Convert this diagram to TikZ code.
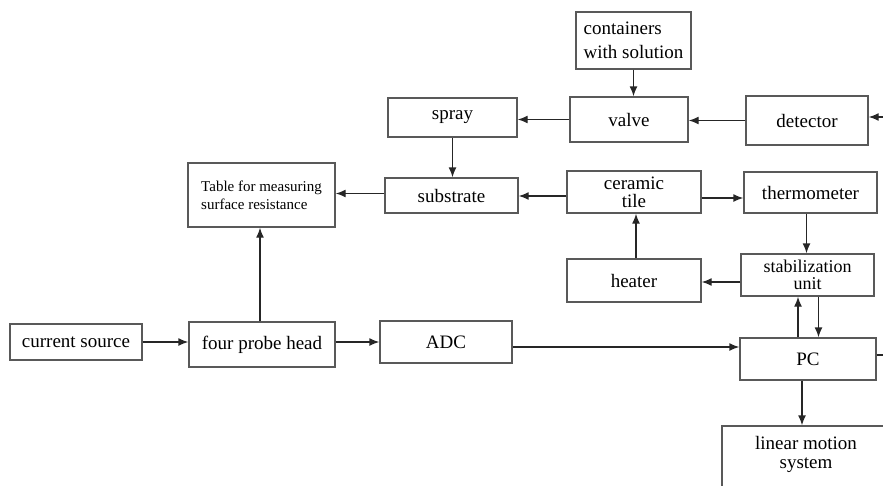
\documentclass[tikz,border=0pt]{standalone}
\usepackage{fontspec}
\setmainfont{Liberation Serif}
\usetikzlibrary{arrows.meta}

\begin{document}
\begin{tikzpicture}[x=1pt,y=-1pt,>={Latex[length=10pt,width=8pt]},
	  blk/.style={draw=black!65,line width=1.4pt,inner sep=0pt,align=center,font=\fontsize{19}{19}\selectfont},
	  arr/.style={->,line width=1.4pt,black!85}]
	  \useasboundingbox (0,0) rectangle (883,485);
	  \clip (0,0) rectangle (883,485);
	  % top row
	  \node[blk,align=left,minimum width=115,minimum height=57,font=\fontsize{19}{24}\selectfont] (cont) at (633.5,40.5) {containers\\with solution};
	  \node[blk,minimum width=118,minimum height=45] (valve) at (629,119.5) {valve};
	  \node[blk,minimum width=129,minimum height=39] (spray) at (452.5,117.5) {spray};
	  \node[blk,minimum width=122,minimum height=49] (det) at (807,120.5) {detector};
	  % middle rows
	  \node[blk,align=left,minimum width=147,minimum height=64,font=\fontsize{15}{18}\selectfont] (table) at (261.5,195) {Table for measuring\\surface resistance};
	  \node[blk,minimum width=133,minimum height=35] (sub) at (451.5,195.5) {substrate};
	  \node[blk,minimum width=134,minimum height=42,font=\fontsize{19}{18}\selectfont] (cer) at (634,192) {ceramic\\tile};
	  \node[blk,minimum width=133,minimum height=41] (therm) at (810.5,192.5) {thermometer};
	  \node[blk,minimum width=134,minimum height=43] (heat) at (634,280.5) {heater};
	  \node[blk,minimum width=133,minimum height=42,font=\fontsize{18}{17}\selectfont] (stab) at (807.5,275) {stabilization\\unit};
	  % bottom row
	  \node[blk,minimum width=132,minimum height=36] (cur) at (76,342) {current source};
	  \node[blk,minimum width=146,minimum height=45] (four) at (262,344.5) {four probe head};
	  \node[blk,minimum width=132,minimum height=42] (adc) at (446,342) {ADC};
	  \node[blk,minimum width=136,minimum height=42] (pc) at (808,359) {PC};
	  \node[blk,minimum width=168,minimum height=72] (lin) at (806,462) {linear motion\\system\\~};
	  \coordinate (inR) at (895,117);
	  \coordinate (outR) at (895,355);
	  % connectors
	  \draw[arr] (cont.south) -- (cont.south |- valve.north);
	  \draw[arr] (valve.west) -- (valve.west -| spray.east);
	  \draw[arr] (det.west) -- (det.west -| valve.east);
	  \draw[arr] (inR) -- (inR -| det.east);
	  \draw[arr] (spray.south) -- (spray.south |- sub.north);
	  \draw[arr] ([yshift=2pt]sub.west) -- ([yshift=2pt]sub.west -| table.east);
	  \draw[arr] ([yshift=-4pt]cer.west) -- ([yshift=-4pt]cer.west -| sub.east);
	  \draw[arr] ([yshift=-6pt]cer.east) -- ([yshift=-6pt]cer.east -| therm.west);
	  \draw[arr] ([xshift=-4pt]therm.south) -- ([xshift=-4pt]therm.south |- stab.north);
	  \draw[arr] ([yshift=-7pt]stab.west) -- ([yshift=-7pt]stab.west -| heat.east);
	  \draw[arr] ([xshift=2pt]heat.north) -- ([xshift=2pt]heat.north |- cer.south);
	  \draw[arr] ([xshift=-10pt]pc.north) -- ([xshift=-10pt]pc.north |- stab.south);
	  \draw[arr] ([xshift=11pt]stab.south) -- ([xshift=11pt]stab.south |- pc.north);
	  \draw[arr] (cur.east) -- (cur.east -| four.west);
	  \draw[arr] ([yshift=2.5pt]four.east) -- ([yshift=2.5pt]four.east -| adc.west);
	  \draw[arr] ([yshift=-5pt]adc.east) -- ([yshift=-5pt]adc.east -| pc.west);
	  \draw[arr] ([xshift=-2pt]four.north) -- ([xshift=-2pt]four.north |- table.south);
	  \draw[arr] ([xshift=-6pt]pc.south) -- ([xshift=-6pt]pc.south |- lin.north);
	  \draw[line width=1.4pt,black!85] (outR -| pc.east) -- (outR);
\end{tikzpicture}
\end{document}
